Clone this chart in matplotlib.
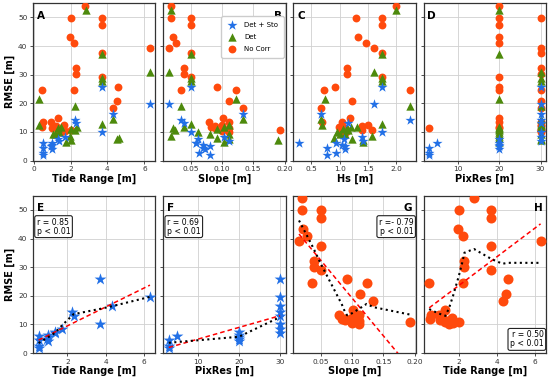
import numpy as np
import matplotlib.pyplot as plt

nan = np.nan

# No Corr: rmse, tide range, slope, Hs, pixel resolution
nc_rmse = [54.1, 49.8, 49.8, 47.3, 43.2, 40.9, 39.3, 37.4, 32.3, 30.1, 29.1, 25.8, 24.6, 24.5,
           20.7, 18.3, 14.9, 13.4, 11.8, 13.4, 11.4, 12.0, 10.8, 11.3, 12.3, 10.5, 10.8, 10.1]
nc_tide = [2.80, 2.00, 3.72, 3.72, 1.98, 2.20, 6.30, 3.72, 2.30, 2.30, 3.72, 4.58, 2.20, 0.45,
           4.50, 4.30, 1.30, 0.52, 0.47, 0.96, 1.00, 1.20, 1.30, 1.49, 1.67, 1.70, 2.02, 1.50]
nc_slope = [0.019, 0.019, 0.050, 0.050, 0.022, 0.027, 0.015, 0.050, 0.039, 0.039, 0.050, 0.092, 0.035, 0.123,
            0.112, 0.134, 0.102, 0.079, 0.083, 0.111, 0.089, 0.089, 0.100, 0.111, 0.100, 0.100, 0.193, 0.111]
nc_hs = [1.99, 1.28, 1.74, 1.74, 1.32, 1.46, 1.61, 1.74, 1.13, 1.13, 1.74, 0.91, 2.25, 0.72,
         1.21, 0.67, 1.19, 1.04, 0.99, 0.68, 1.08, 1.40, 1.40, 1.10, 1.50, 1.04, 1.58, 1.12]
nc_pix = [20, 20, 30, 20, 20, 20, 30, 30, 30, 30, 20, 20, 30, 20,
          30, 30, 20, 20, 20, 30, 20, 30, 30, 3, 30, 30, 30, 30]

# Det
det_rmse = [52.7, 37.2, 31.1, 28.8, 27.9, 21.6, 18.9, 14.5, 12.7, 12.4, 11.8, 11.5,
            11.2, 10.7, 9.2, 9.2, 8.6, 8.0, 7.7, 7.2, 6.5, 11.8, 10.0]
det_tide = [2.83, 3.72, 6.30, 3.72, 3.72, 0.27, 2.23, 4.32, 3.72, 0.27, 2.34, 1.33,
            2.02, 2.23, 1.03, 1.15, 1.98, 4.60, 4.50, 2.05, 1.77, 1.50, 1.40]
det_slope = [0.019, 0.050, 0.015, 0.050, 0.050, 0.123, 0.035, 0.134, 0.050, 0.112, 0.039, 0.022,
             0.092, 0.025, 0.081, 0.112, 0.019, 0.092, 0.112, 0.190, 0.103, 0.103, 0.062]
det_hs = [1.99, 1.74, 1.61, 1.74, 1.74, 0.74, 2.25, 0.67, 1.74, 0.69, 1.30, 1.13,
          1.06, 1.14, 1.00, 1.10, 1.58, 0.90, 1.22, 1.42, 1.42, 1.20, 0.95]
det_pix = [20, 20, 30, 30, 30, 20, 30, 30, 30, 30, 30, 20,
           20, 20, 20, 30, 20, 20, 30, 30, 20, 20, 20]

# Det + Sto
ds_rmse = [25.8, 19.6, 16.4, 14.2, 13.1, 10.1, 8.4, 7.5, 7.0, 6.3, 5.5, 5.1, 6.1, 4.5, 2.6, 1.8, 4.2]
ds_tide = [3.72, 6.30, 4.32, 2.22, 2.32, 3.72, 1.72, 1.33, 1.35, 1.00, 1.00, 0.95, 0.50, 0.50, 0.50, 0.50, 1.00]
ds_slope = [0.050, 0.015, 0.134, 0.035, 0.039, 0.050, 0.103, 0.061, 0.112, 0.058, 0.069, 0.081,
            0.058, 0.069, 0.063, 0.081, 0.073]
ds_hs = [1.74, 1.61, 0.67, 2.25, 1.14, 1.74, 1.40, 1.07, 1.42, 0.93, 1.04, 1.10, 0.28, 0.77, 0.94, 0.77, 1.09]
ds_pix = [30, 30, 30, 30, 30, 30, 30, 20, 30, 20, 20, 20, 5, 3, 3, 3, 20]

top_letters = ['A', 'B', 'C', 'D']
bottom_letters = ['E', 'F', 'G', 'H']
x_labels = ['Tide Range [m]', 'Slope [m]', 'Hs [m]', 'PixRes [m]']
bottom_x_labels = ['Tide Range [m]', 'PixRes [m]', 'Slope [m]', 'Tide Range [m]']
r_texts = ['r = 0.85\np < 0.01', 'r = 0.69\np < 0.01', 'r =- 0.79\np < 0.01', 'r = 0.50\np < 0.01']

C_DS = '#2270e6'
C_DET = '#4d8a0c'
C_NC = '#ff4a0d'


def lowess(x, y, frac=2 / 3, iters=3):
    # robust locally weighted linear regression (tricube weights)
    order = np.argsort(x, kind='mergesort')
    x = np.asarray(x, float)[order]
    y = np.asarray(y, float)[order]
    n = len(x)
    k = int(np.ceil(frac * n))
    rob = np.ones(n)
    fit = np.zeros(n)
    for _ in range(iters + 1):
        for i in range(n):
            d = np.abs(x - x[i])
            h = max(np.sort(d)[k - 1], 1e-9)
            u = np.clip(d / h, 0, 1)
            w = (1 - u ** 3) ** 3 * rob
            sw = w.sum()
            xm = (w * x).sum() / sw
            ym = (w * y).sum() / sw
            var = (w * (x - xm) ** 2).sum()
            b = (w * (x - xm) * (y - ym)).sum() / var if var > 0 else 0.0
            fit[i] = ym + b * (x[i] - xm)
        res = y - fit
        s = np.median(np.abs(res))
        if s == 0:
            break
        u = np.clip(res / (6 * s), -1, 1)
        rob = (1 - u ** 2) ** 2
    return x, fit


plt.rcParams['axes.edgecolor'] = '#333333'
plt.rcParams['xtick.color'] = '#333333'
plt.rcParams['ytick.color'] = '#333333'

fig, axes = plt.subplots(2, 4, figsize=(5.5, 3.83), dpi=100, sharey=True)
fig.subplots_adjust(left=0.06, right=0.993, top=0.992, bottom=0.078, wspace=0.063, hspace=0.222)

ds = {'tide': ds_tide, 'slope': ds_slope, 'hs': ds_hs, 'pix': ds_pix}
det = {'tide': det_tide, 'slope': det_slope, 'hs': det_hs, 'pix': det_pix}
nc = {'tide': nc_tide, 'slope': nc_slope, 'hs': nc_hs, 'pix': nc_pix}
keys = ['tide', 'slope', 'hs', 'pix']

for i, ax in enumerate(axes[0]):
    key = keys[i]
    h_nc = ax.scatter(nc[key], nc_rmse, marker='o', s=32, color=C_NC, zorder=3, linewidths=0)
    h_det = ax.scatter(det[key], det_rmse, marker='^', s=36, color=C_DET, zorder=3, linewidths=0)
    h_ds = ax.scatter(ds[key], ds_rmse, marker='*', s=58, color=C_DS, zorder=3, linewidths=0)
    ax.set_xlabel(x_labels[i], fontsize=7, fontweight='bold', labelpad=1)
    if i == 1:
        ax.legend([h_ds, h_det, h_nc], ['Det + Sto', 'Det', 'No Corr'], loc='upper right',
                  bbox_to_anchor=(1.0, 0.93), fontsize=5, framealpha=1, borderpad=0.8,
                  labelspacing=0.9, handletextpad=1.1, handlelength=1.4, borderaxespad=0.3)
    right = top_letters[i] == 'B'
    ax.text(0.97 if right else 0.03, 0.92, top_letters[i], transform=ax.transAxes,
            ha='right' if right else 'left', va='center', fontsize=7.5, fontweight='bold')

bottom_data = [
    (ds_tide, ds_rmse, '*', C_DS, 80),
    (ds_pix, ds_rmse, '*', C_DS, 80),
    (nc_slope, nc_rmse, 'o', C_NC, 52),
    (nc_tide, nc_rmse, 'o', C_NC, 52),
]
for i, ax in enumerate(axes[1]):
    x, y, m, c, s = bottom_data[i]
    x = np.asarray(x, float)
    y = np.asarray(y, float)
    ax.scatter(x, y, marker=m, s=s, color=c, zorder=3, linewidths=0)
    p = np.polyfit(x, y, 1)
    xx = np.array([x.min(), x.max()])
    ax.plot(xx, np.polyval(p, xx), '--', color='red', lw=1.1, zorder=4, dashes=(3, 2))
    lx, ly = lowess(x, y)
    ax.plot(lx, ly, ':', color='black', lw=1.5, zorder=4)
    ax.set_xlabel(bottom_x_labels[i], fontsize=7, fontweight='bold', labelpad=1)
    letter = bottom_letters[i]
    right = letter in ('G', 'H')
    ax.text(0.97 if right else 0.03, 0.92, letter, transform=ax.transAxes,
            ha='right' if right else 'left', va='center', fontsize=7.5, fontweight='bold')
    box = dict(boxstyle='round,pad=0.25', fc='white', ec='#222222', lw=0.8)
    if letter == 'H':
        ax.text(0.98, 0.03, r_texts[i], transform=ax.transAxes, ha='right', va='bottom',
                fontsize=5.6, bbox=box, linespacing=1.0, zorder=5)
    elif letter == 'G':
        ax.text(0.98, 0.86, r_texts[i], transform=ax.transAxes, ha='right', va='top',
                fontsize=5.6, bbox=box, linespacing=1.0, zorder=5)
    else:
        ax.text(0.03, 0.86, r_texts[i], transform=ax.transAxes, ha='left', va='top',
                fontsize=5.6, bbox=box, linespacing=1.0, zorder=5)

for ax in axes.flat:
    ax.set_ylim(0, 55)
    ax.set_yticks([0, 10, 20, 30, 40, 50])
    ax.grid(True, color='#d0d0d0', lw=0.6)
    ax.set_axisbelow(True)
    ax.tick_params(labelsize=5.3, length=2.5, width=0.6, pad=1.5)
    for sp in ax.spines.values():
        sp.set_linewidth(0.9)

for ax in axes[:, 0]:
    ax.set_ylabel('RMSE [m]', fontsize=7, fontweight='bold', labelpad=2)

fig.savefig('out.png', dpi=100)
